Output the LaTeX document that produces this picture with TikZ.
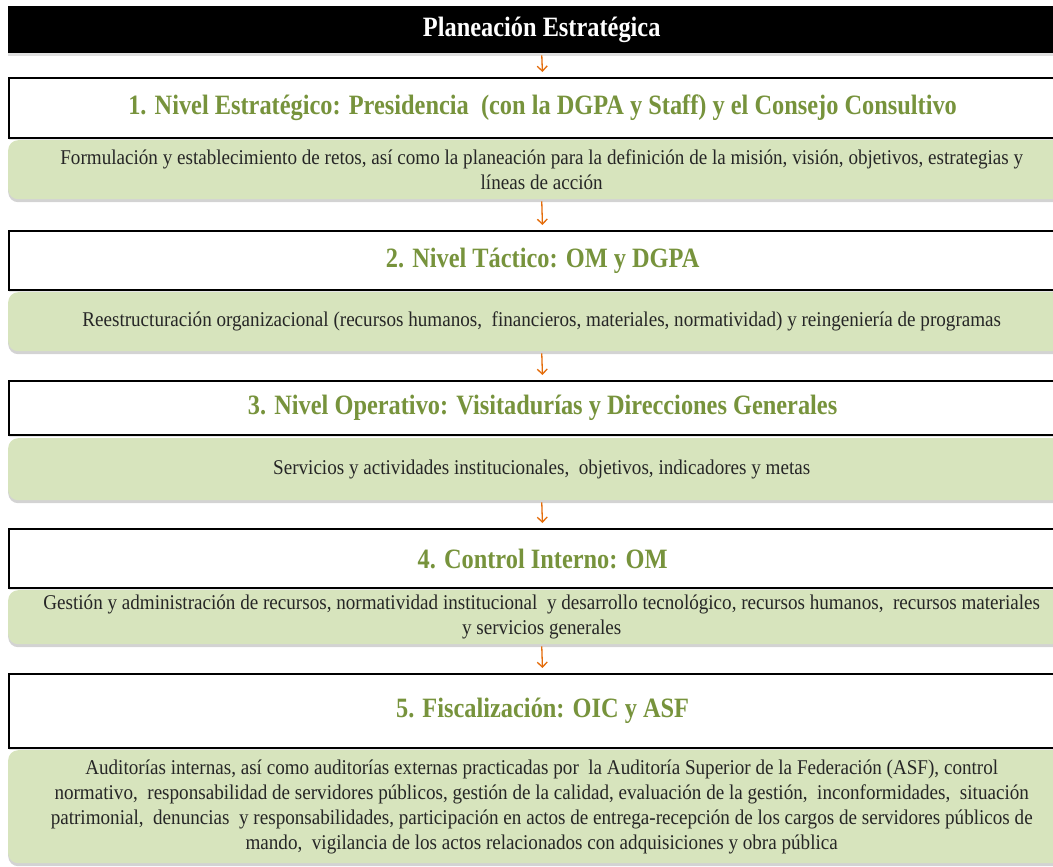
\documentclass[tikz,border=0pt]{standalone}
\usepackage{fontspec}
\setmainfont{Liberation Serif}
\newfontfamily\narrowserif{Liberation Serif}[FakeStretch=0.87]
\newfontfamily\bodyserif{Liberation Serif}[FakeStretch=0.91]
\usetikzlibrary{arrows.meta,shadows}
\definecolor{leaf}{HTML}{D7E4BD}
\definecolor{olive}{HTML}{77933C}
\definecolor{flame}{HTML}{E46C0A}

\begin{document}
\begin{tikzpicture}[x=1pt,y=1pt,
    every node/.style={anchor=north west,minimum width=1067pt,inner sep=0pt,align=center},
    header/.style={fill=black,text=white,font=\narrowserif\fontsize{28}{30}\selectfont\bfseries,
      drop shadow={shadow xshift=0pt,shadow yshift=-3pt,opacity=.25}},
    level/.style={draw=black,line width=2.2pt,fill=white,text=olive,
      font=\narrowserif\fontsize{28}{30}\selectfont\bfseries,
      drop shadow={shadow xshift=0pt,shadow yshift=-2pt,opacity=.2}},
    detail/.style={fill=leaf,rounded corners=10pt,text=black!85,
      font=\bodyserif\fontsize{21}{25}\selectfont,
      drop shadow={shadow xshift=0pt,shadow yshift=-3pt,opacity=.35}},
    flow/.style={draw=flame,line width=1.3pt,-{Straight Barb[length=5pt,width=10pt]},
      shorten <=2pt,shorten >=5pt}]
  \useasboundingbox (0,0) rectangle (1053,-867);

  \node[header,minimum height=47pt] (top) at (8,-6) {Planeación Estratégica};

  \node[level,minimum height=60pt] (b1) at (8,-77)
    {1. Nivel Estratégico: Presidencia \ (con la DGPA y Staff) y el Consejo Consultivo};
  \node[detail,minimum height=59pt] (g1) at (8,-140)
    {Formulación y establecimiento de retos, así como la planeación para la definición de la misión, visión, objetivos, estrategias y\\
     líneas de acción};

  \node[level,minimum height=59pt] (b2) at (8,-230) {2. Nivel Táctico: OM y DGPA};
  \node[detail,minimum height=59pt] (g2) at (8,-292)
    {Reestructuración organizacional (recursos humanos, \ financieros, materiales, normatividad) y reingeniería de programas};

  \node[level,minimum height=54pt] (b3) at (8,-380)
    {3. Nivel Operativo: Visitadurías y Direcciones Generales};
  \node[detail,minimum height=62pt] (g3) at (8,-438)
    {Servicios y actividades institucionales, \ objetivos, indicadores y metas};

  \node[level,minimum height=59pt] (b4) at (8,-528) {4. Control Interno: OM};
  \node[detail,minimum height=54pt] (g4) at (8,-590)
    {Gestión y administración de recursos, normatividad institucional \ y desarrollo tecnológico, recursos humanos, \ recursos materiales\\
     y servicios generales};

  \node[level,minimum height=74pt] (b5) at (8,-673) {5. Fiscalización: OIC y ASF};
  \node[detail,minimum height=113pt] (g5) at (8,-750)
    {Auditorías internas, así como auditorías externas practicadas por \ la Auditoría Superior de la Federación (ASF), control\\
     normativo, \ responsabilidad de servidores públicos, gestión de la calidad, evaluación de la gestión, \ inconformidades, \ situación\\
     patrimonial, \ denuncias \ y responsabilidades, participación en actos de entrega-recepción de los cargos de servidores públicos de\\
     mando, \ vigilancia de los actos relacionados con adquisiciones y obra pública};

  % flechas entre niveles
  \draw[flow] (top.south) -- (b1.north);
  \draw[flow] (g1.south) -- (b2.north);
  \draw[flow] (g2.south) -- (b3.north);
  \draw[flow] (g3.south) -- (b4.north);
  \draw[flow] (g4.south) -- (b5.north);
\end{tikzpicture}
\end{document}
